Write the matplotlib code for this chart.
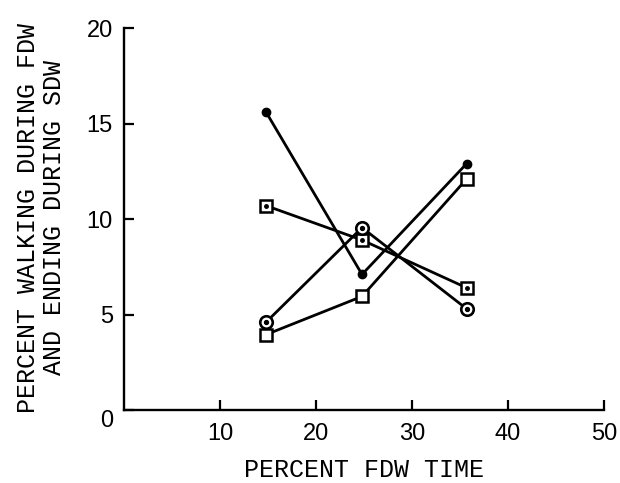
import matplotlib
matplotlib.use("Agg")
import matplotlib.pyplot as plt
import matplotlib.transforms as mtransforms

# values
fdw_time = [14.8, 24.8, 35.7]
dots = [15.6, 7.1, 12.9]
dotted_squares = [10.7, 8.9, 6.4]
dotted_circles = [4.6, 9.55, 5.3]
open_squares = [3.95, 5.95, 12.1]

x_ticks = [10, 20, 30, 40, 50]
y_ticks = [0, 5, 10, 15, 20]

mono = "Liberation Mono"
sans = "Liberation Sans"

fig = plt.figure(figsize=(6.2, 4.83), dpi=100)
ax = fig.add_axes([0.2, 0.151, 0.774, 0.791])

lw = 2.0
# filled dots
ax.plot(fdw_time, dots, color="black", lw=lw, marker="o", markersize=6, zorder=3)
# squares with a dot inside
ax.plot(fdw_time, dotted_squares, color="black", lw=lw, marker="s", markersize=8.5,
        markerfacecolor="white", markeredgewidth=1.8, zorder=3)
ax.plot(fdw_time, dotted_squares, ls="none", marker="o", markersize=2.5, color="black", zorder=4)
# circles with a dot inside
ax.plot(fdw_time, dotted_circles, color="black", lw=lw, marker="o", markersize=9,
        markerfacecolor="white", markeredgewidth=1.9, zorder=3)
ax.plot(fdw_time, dotted_circles, ls="none", marker="o", markersize=2.8, color="black", zorder=4)
# open squares
ax.plot(fdw_time, open_squares, color="black", lw=lw, marker="s", markersize=9,
        markerfacecolor="white", markeredgewidth=1.8, zorder=3)

ax.set_xlim(0, 50)
ax.set_ylim(0, 20)
ax.set_xticks(x_ticks)
ax.set_yticks(y_ticks)
ax.set_xticklabels([str(t) for t in x_ticks], fontfamily=sans, fontsize=17)
ax.set_yticklabels([str(t) for t in y_ticks], fontfamily=sans, fontsize=17)
ax.tick_params(direction="in", length=7, width=1.6, pad=8)
ax.tick_params(axis="x", pad=9)

for side in ["top", "right"]:
    ax.spines[side].set_visible(False)
for side in ["left", "bottom"]:
    ax.spines[side].set_linewidth(1.7)

# the 0 on the y axis sits a bit below the axis line
zero = ax.get_yticklabels()[0]
zero.set_transform(zero.get_transform() + mtransforms.ScaledTranslation(0, -6 / 72, fig.dpi_scale_trans))

ax.set_xlabel("PERCENT FDW TIME", fontfamily=mono, fontsize=18, labelpad=10)
fig.text(41 / 620, 0.549, "PERCENT WALKING DURING FDW\nAND ENDING DURING SDW",
         rotation=90, ha="center", va="center", multialignment="center",
         fontfamily=mono, fontsize=18, linespacing=1.15)

plt.savefig("out.png", dpi=100)
